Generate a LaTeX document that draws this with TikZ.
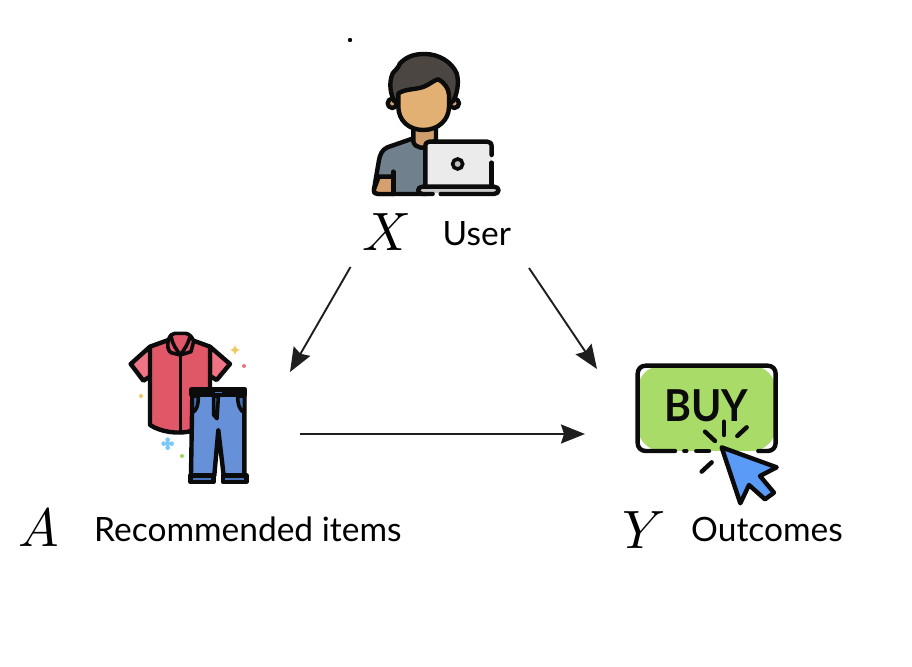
\documentclass[tikz,border=0pt]{standalone}
\usepackage{fontspec}
\setmainfont{Lato}
\usetikzlibrary{arrows.meta}
\definecolor{ink}{HTML}{0B0B0B}
\definecolor{arrowink}{HTML}{1E1E1E}
\tikzset{
  iconline/.style={draw=ink,line width=4.4pt,line join=round,line cap=round},
  thinline/.style={draw=ink,line width=3.6pt,line join=round,line cap=round},
  flow/.style={draw=arrowink,line width=1.9pt,-{Stealth[length=24pt,width=19pt,inset=3pt]}},
  lbl/.style={inner sep=0pt,anchor=base west,font=\fontsize{33.5}{40}\selectfont,text=black},
  sym/.style={inner sep=0pt,scale=5.4,text=black},
  zoomA/.style={shift={(350,40)},x=0.3333pt,y=-0.3333pt},
  zoomB/.style={shift={(115,320)},x=0.3333pt,y=-0.3333pt},
  zoomC/.style={shift={(625,350)},x=0.3333pt,y=-0.3333pt},
}
\begin{document}
\begin{tikzpicture}[x=1pt,y=-1pt]
\useasboundingbox (0,0) rectangle (912,666);
% ---------- user
\begin{scope}[zoomA]
  \filldraw[iconline,fill=white!85!black,fill=white] (0,0) circle (0pt);
  % torso
  \filldraw[iconline,fill=gray!0,fill={rgb,255:red,112;green,128;blue,140}]
    (190,295) -- (112,322) .. controls (95,330) and (90,345) .. (87,360) -- (72,448)
    .. controls (71,458) and (75,462) .. (84,462) -- (230,462) -- (230,300) -- cycle;
  % forearm patch
  \filldraw[iconline,fill={rgb,255:red,214;green,160;blue,110}]
    (86,410) -- (130,410) -- (130,462) -- (84,462) .. controls (75,462) and (71,458) .. (72,448) -- cycle;
  \draw[iconline] (130,395) -- (130,462);
  % neck
  \filldraw[iconline,fill={rgb,255:red,207;green,158;blue,108}]
    (190,255) -- (190,305) .. controls (195,325) and (225,330) .. (240,312) -- (258,300) -- (258,255) -- cycle;
  % ears
  \filldraw[iconline,fill={rgb,255:red,214;green,160;blue,110}] (127,190) circle (14);
  \filldraw[iconline,fill={rgb,255:red,214;green,160;blue,110}] (313,190) circle (14);
  % hair
  \filldraw[iconline,fill={rgb,255:red,75;green,70;blue,66}]
    (134,185) .. controls (122,165) and (115,130) .. (128,100)
    .. controls (135,90) and (145,85) .. (150,70)
    .. controls (175,45) and (200,42) .. (225,42)
    .. controls (265,42) and (305,65) .. (320,100)
    .. controls (328,125) and (322,165) .. (308,185) -- cycle;
  % face
  \filldraw[iconline,fill={rgb,255:red,226;green,176;blue,114}]
    (145,160) .. controls (170,145) and (195,150) .. (222,140)
    .. controls (240,133) and (252,120) .. (265,118)
    .. controls (280,125) and (297,145) .. (297,165)
    -- (297,200) .. controls (297,240) and (265,270) .. (220,270)
    .. controls (175,270) and (145,240) .. (145,200) -- cycle;
  % laptop
  \filldraw[draw=none,fill={rgb,255:red,235;green,235;blue,235}] (226,305) rectangle (425,440);
  \draw[iconline] (425,345) -- (425,320) .. controls (425,310) and (420,305) .. (412,305)
    -- (238,305) .. controls (230,305) and (226,310) .. (226,320) -- (226,440);
  \draw[iconline] (425,368) -- (425,440);
  \filldraw[line width=3.6pt,draw=ink,fill={rgb,255:red,190;green,190;blue,190}] (323,372) circle (15);
  % base
  \filldraw[draw=none,fill={rgb,255:red,200;green,200;blue,200}] (208,440) rectangle (442,460);
  \draw[iconline] (225,440) -- (432,440) .. controls (450,440) and (450,462) .. (432,462) -- (272,462);
  \draw[iconline] (248,462) -- (218,462) .. controls (200,462) and (200,440) .. (218,440) -- (225,440);
\end{scope}
\node[sym] (xsym) at (386.5,232.5) {$X$};
\node[lbl] (xlabel) at (442.5,245) {User};
% ---------- items
\begin{scope}[zoomB]
  % sleeves
  \filldraw[iconline,fill={rgb,255:red,240;green,116;blue,132}]
    (105,80) -- (47,132) -- (85,182) -- (108,168) -- cycle;
  \filldraw[iconline,fill={rgb,255:red,240;green,116;blue,132}]
    (285,80) -- (345,132) -- (305,180) -- (285,168) -- cycle;
  % body
  \filldraw[iconline,fill={rgb,255:red,224;green,88;blue,104}]
    (105,80) -- (160,60) -- (230,60) -- (285,80) -- (285,210) -- (232,210) -- (232,332)
    .. controls (190,345) and (135,335) .. (105,315) -- cycle;
  % collar
  \filldraw[thinline,fill={rgb,255:red,224;green,88;blue,104}]
    (160,60) .. controls (165,45) and (172,40) .. (180,40) -- (212,40)
    .. controls (225,42) and (232,52) .. (236,64) -- (228,95) -- (196,105) -- (168,98)
    .. controls (160,95) and (155,75) .. (160,60) -- cycle;
  \draw[thinline] (168,50) .. controls (172,72) and (185,90) .. (196,105)
    .. controls (205,92) and (220,72) .. (225,50);
  \draw[thinline] (196,105) -- (196,338);
  % pants
  \filldraw[iconline,fill={rgb,255:red,102;green,144;blue,216}]
    (232,220) -- (388,220) -- (388,466) -- (326,466) -- (310,330) -- (298,466) -- (228,466) -- cycle;
  \filldraw[thinline,fill={rgb,255:red,70;green,110;blue,184}]
    (232,228) -- (250,228) .. controls (250,255) and (245,272) .. (232,278) -- cycle;
  \filldraw[thinline,fill={rgb,255:red,70;green,110;blue,184}]
    (388,228) -- (368,228) .. controls (368,255) and (375,272) .. (388,278) -- cycle;
  \filldraw[thinline,fill={rgb,255:red,70;green,110;blue,184}]
    (296,228) -- (310,228) -- (310,232) -- (306,296) -- (296,285) -- cycle;
  \filldraw[iconline,fill={rgb,255:red,74;green,116;blue,188}] (230,208) rectangle (390,224);
  \filldraw[thinline,fill={rgb,255:red,74;green,116;blue,188}] (296,210) rectangle (326,224);
  \filldraw[iconline,fill={rgb,255:red,74;green,116;blue,188}] (226,466) rectangle (296,486);
  \filldraw[iconline,fill={rgb,255:red,74;green,116;blue,188}] (324,466) rectangle (394,486);
  % sparkles
  \fill[fill={rgb,255:red,240;green,200;blue,96}] (360,74) .. controls (362,85) and (366,88) .. (376,90)
    .. controls (366,92) and (362,95) .. (360,106) .. controls (358,95) and (354,92) .. (344,90)
    .. controls (354,88) and (358,85) .. (360,74) -- cycle;
  \fill[fill={rgb,255:red,240;green,112;blue,136}] (387,138) circle (6);
  \fill[fill={rgb,255:red,240;green,200;blue,96}] (78,228) circle (6);
  \fill[fill={rgb,255:red,124;green,200;blue,248}] (158,359) circle (7) (158,383) circle (7) (146,371) circle (7) (170,371) circle (7) (158,371) circle (7);
  \fill[fill={rgb,255:red,152;green,216;blue,96}] (201,408) circle (6);
\end{scope}
\node[sym] (asym) at (39,528.5) {$A$};
\node[lbl] (alabel) at (94,541) {Recommended items};
% ---------- buy
\begin{scope}[zoomC]
  \fill[fill={rgb,255:red,168;green,219;blue,104},rounded corners=24] (38,47) rectangle (452,303);
  \draw[iconline] (150,303) -- (62,303) .. controls (48,303) and (38,293) .. (38,279)
    -- (38,71) .. controls (38,57) and (48,47) .. (62,47) -- (428,47)
    .. controls (442,47) and (452,57) .. (452,71) -- (452,279)
    .. controls (452,293) and (442,303) .. (428,303) -- (400,303);
  \draw[iconline] (178,303) -- (184,303);
  \draw[iconline] (214,303) -- (252,303);
  \node[inner sep=0pt,anchor=base,font=\fontsize{44}{50}\selectfont\bfseries,xscale=0.93,text=ink] (buy) at (243,215) {BUY};
  \draw[iconline] (240,245) -- (270,273);
  \draw[iconline] (297,215) -- (297,255);
  \draw[iconline] (337,258) -- (365,232);
  \draw[iconline] (230,365) -- (260,337);
  \filldraw[iconline,fill={rgb,255:red,91;green,155;blue,248}]
    (290,292) -- (455,352) -- (405,378) -- (447,428) -- (420,448) -- (372,405) -- (346,460) -- cycle;
\end{scope}
\node[sym] (ysym) at (644,530) {$Y$};
\node[lbl] (ylabel) at (691,541) {Outcomes};
% ---------- connectors
\coordinate (xa) at (350.5,267);
\coordinate (ax) at (290,372);
\coordinate (xy) at (529,268);
\coordinate (yx) at (597,369);
\coordinate (ay) at (300,434);
\coordinate (ya) at (585,434);
\draw[flow] (xa) -- (ax);
\draw[flow] (xy) -- (yx);
\draw[flow] (ay) -- (ya);
\end{tikzpicture}
\end{document}
